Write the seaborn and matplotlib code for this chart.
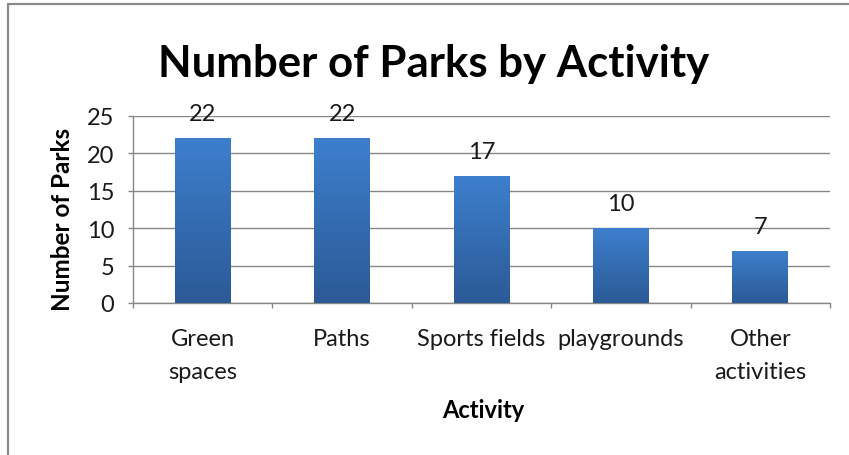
import numpy as np
import pandas as pd
import matplotlib
matplotlib.use("Agg")
import matplotlib.pyplot as plt
from matplotlib.lines import Line2D
from matplotlib.colors import LinearSegmentedColormap
import seaborn as sns

# Data
categories = ["Green\nspaces", "Paths", "Sports fields", "playgrounds", "Other\nactivities"]
counts = [22, 22, 17, 10, 7]
y_ticks = [0, 5, 10, 15, 20, 25]

sns.set_theme(style="white")
plt.rcParams["font.family"] = ["Lato", "DejaVu Sans"]

W, H = 849, 456
fig = plt.figure(figsize=(W / 100, H / 100), dpi=100)
fig.patch.set_facecolor("white")

# plot area in pixel coordinates
left, right, top, bottom = 133, 830, 117, 304
ax = fig.add_axes([left / W, 1 - bottom / H, (right - left) / W, (bottom - top) / H])

df = pd.DataFrame({"Activity": categories, "Parks": counts})
sns.barplot(data=df, x="Activity", y="Parks", color="#3a78c2", width=0.4,
            saturation=1, ax=ax, zorder=2)

# vertical gradient on each bar
cmap = LinearSegmentedColormap.from_list("barfill", ["#2b5a96", "#3d7fcd"])
grad = np.linspace(0, 1, 256).reshape(-1, 1)
for p in ax.patches:
    x0, y0 = p.get_x(), p.get_y()
    w, h = p.get_width(), p.get_height()
    p.set_edgecolor("none")
    im = ax.imshow(grad, extent=[x0, x0 + w, y0, y0 + h], origin="lower",
                   cmap=cmap, aspect="auto", zorder=3, interpolation="bilinear")
    im.set_clip_path(p)

ax.set_xlim(-0.5, len(categories) - 0.5)
ax.set_ylim(0, 25)
ax.set_yticks(y_ticks)

# gridlines and axes
grid_c = "#878787"
ax.yaxis.grid(True, color=grid_c, linewidth=1.0)
ax.xaxis.grid(False)
ax.set_axisbelow(True)
for s in ["top", "right"]:
    ax.spines[s].set_visible(False)
for s in ["left", "bottom"]:
    ax.spines[s].set_color(grid_c)
    ax.spines[s].set_linewidth(1.0)

text_c = "#1a1a1a"
fs = 17
ax.tick_params(axis="y", which="major", direction="out", length=3.6, width=1.0,
               color=grid_c, left=True, pad=10, labelsize=fs, labelcolor=text_c)
ax.tick_params(axis="x", which="major", length=0, pad=18, labelsize=fs,
               labelcolor=text_c)
ax.set_xticks(np.arange(-0.5, len(categories)), minor=True)
ax.tick_params(axis="x", which="minor", direction="out", length=3.6, width=1.0,
               color=grid_c, bottom=True)
for lbl in ax.get_xticklabels():
    lbl.set_linespacing(1.7)

ax.set_xlabel("")
ax.set_ylabel("")

# value labels above bars
for i, v in enumerate(counts):
    ax.annotate(str(v), xy=(i, v), xytext=(0, 17.6), textcoords="offset points",
                ha="center", va="center", fontsize=fs, color=text_c)

# titles
fig.text(433.5 / W, 1 - 77 / H, "Number of Parks by Activity", ha="center",
         va="baseline", fontsize=31.5, fontweight="bold", color="black")
fig.text(62 / W, 1 - 219 / H, "Number of Parks", rotation=90, ha="center",
         va="center", fontsize=17.5, fontweight="bold", color="black")
fig.text(483 / W, 1 - 411 / H, "Activity", ha="center", va="center",
         fontsize=17, fontweight="bold", color="black")

# chart frame edges
frame_c = "#8a8a8a"
fig.add_artist(Line2D([8 / W, 1], [1 - 5 / H, 1 - 5 / H], transform=fig.transFigure,
                      color=frame_c, linewidth=1.6))
fig.add_artist(Line2D([8 / W, 8 / W], [0, 1 - 5 / H], transform=fig.transFigure,
                      color=frame_c, linewidth=1.6))

fig.savefig("out.png", dpi=100)
